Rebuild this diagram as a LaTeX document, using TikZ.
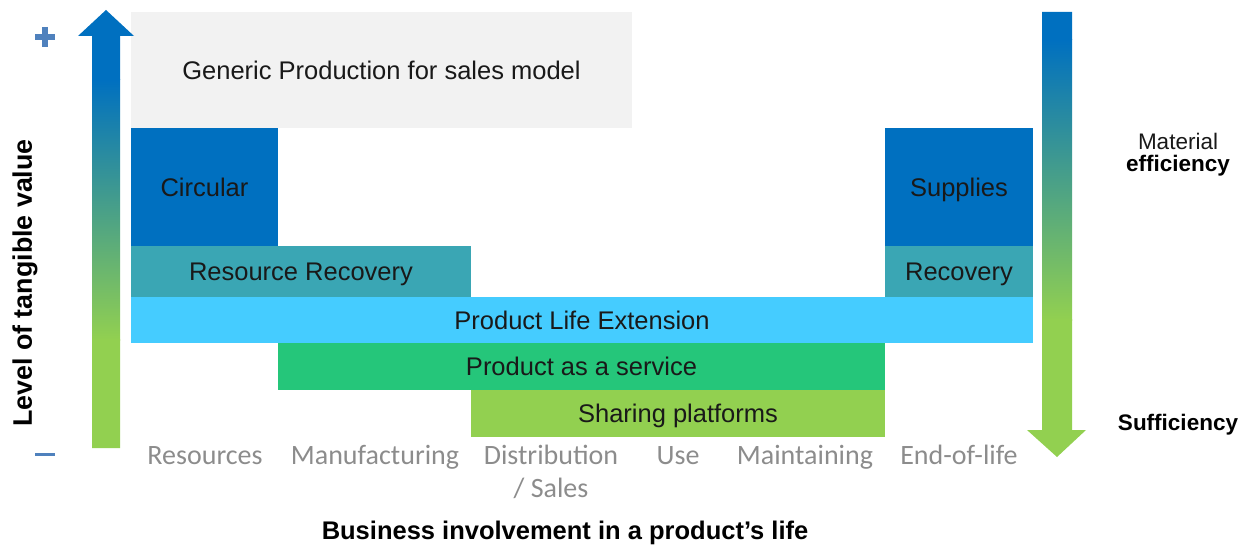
\documentclass[tikz,border=0pt]{standalone}
\usepackage{fontspec}
\setmainfont{Liberation Sans}
\newfontfamily\stagefont{Carlito}
\definecolor{cblue}{RGB}{0,112,192}
\definecolor{cgreen}{RGB}{146,208,80}
\definecolor{cteal}{RGB}{58,166,180}
\definecolor{csky}{RGB}{69,204,255}
\definecolor{cmint}{RGB}{37,198,122}
\definecolor{cgrey}{RGB}{242,242,242}
\definecolor{csign}{RGB}{79,129,189}
\definecolor{cstage}{RGB}{140,140,140}
\definecolor{ctext}{RGB}{25,25,25}
\tikzset{
  blk/.style={anchor=north west, inner sep=0pt, outer sep=0pt, align=center,
    text=ctext, font=\fontsize{25.5}{29}\selectfont, text depth=0pt},
  stage/.style={text=cstage, font=\stagefont\fontsize{28}{31}\selectfont, inner sep=0pt, anchor=base},
  bold/.style={font=\bfseries\fontsize{25.5}{29}\selectfont, text=black, inner sep=0pt},
}
\begin{document}
\begin{tikzpicture}[x=1pt,y=-1pt]
\useasboundingbox (0,0) rectangle (1248,548);
% blocks
\node[blk, fill=cgrey, minimum width=501, minimum height=116] (gen) at (131,12) {Generic Production for sales model};
\node[blk, fill=cblue, minimum width=147, minimum height=118] (circ) at (131,128) {Circular};
\node[blk, fill=cblue, minimum width=148, minimum height=118] (sup) at (885,128) {Supplies};
\node[blk, fill=cteal, minimum width=340, minimum height=51] (rr) at (131,246) {Resource Recovery};
\node[blk, fill=cteal, minimum width=148, minimum height=51] (rec) at (885,246) {Recovery};
\node[blk, fill=csky, minimum width=902, minimum height=46] (ple) at (131,297) {Product Life Extension};
\node[blk, fill=cmint, minimum width=607, minimum height=47] (paas) at (278,343) {Product as a service};
\node[blk, fill=cgreen, minimum width=414, minimum height=47] (share) at (471,390) {Sharing platforms};
% left arrow
\begin{scope}
\clip (92,448) -- (92,36) -- (78,36) -- (106,10) -- (134,36) -- (120,36) -- (120,448) -- cycle;
\fill[cblue] (70,0) rectangle (140,80);
\shade[top color=cblue, bottom color=cgreen] (70,80) rectangle (140,340);
\fill[cgreen] (70,339) rectangle (140,460);
\end{scope}
% right arrow
\begin{scope}
\clip (1042,12) -- (1072,12) -- (1072,430) -- (1086,430) -- (1057,457) -- (1027,430) -- (1042,430) -- cycle;
\fill[cblue] (1020,0) rectangle (1090,40);
\shade[top color=cblue, bottom color=cgreen] (1020,40) rectangle (1090,320);
\fill[cgreen] (1020,319) rectangle (1090,470);
\end{scope}
% plus / minus
\draw[csign, line width=5.5pt] (35,37) -- (55,37) (45,27) -- (45,47);
\draw[csign, line width=3pt] (35,454) -- (55,454);
% axis labels
\node[bold, rotate=90, font=\bfseries\fontsize{26.8}{30}\selectfont] (ylab) at (25,283) {Level of tangible value};
\node[bold] (xlab) at (565,533) {Business involvement in a product’s life};
\node[inner sep=0pt, text=ctext, font=\fontsize{22.5}{27}\selectfont] (mat) at (1178,141) {Material};
\node[bold, font=\bfseries\fontsize{22.5}{27}\selectfont] (eff) at (1178,166) {efficiency};
\node[bold, font=\bfseries\fontsize{22.5}{27}\selectfont] (suff) at (1178,425) {Sufficiency};
% stages
\node[stage] (s1) at (205,464) {Resources};
\node[stage] (s2) at (375,464) {Manufacturing};
\node[stage] (s3) at (551,464) {Distribution};
\node[stage] (s3b) at (551,497) {/ Sales};
\node[stage] (s4) at (678,464) {Use};
\node[stage] (s5) at (805,464) {Maintaining};
\node[stage] (s6) at (959,464) {End-of-life};
\end{tikzpicture}
\end{document}
